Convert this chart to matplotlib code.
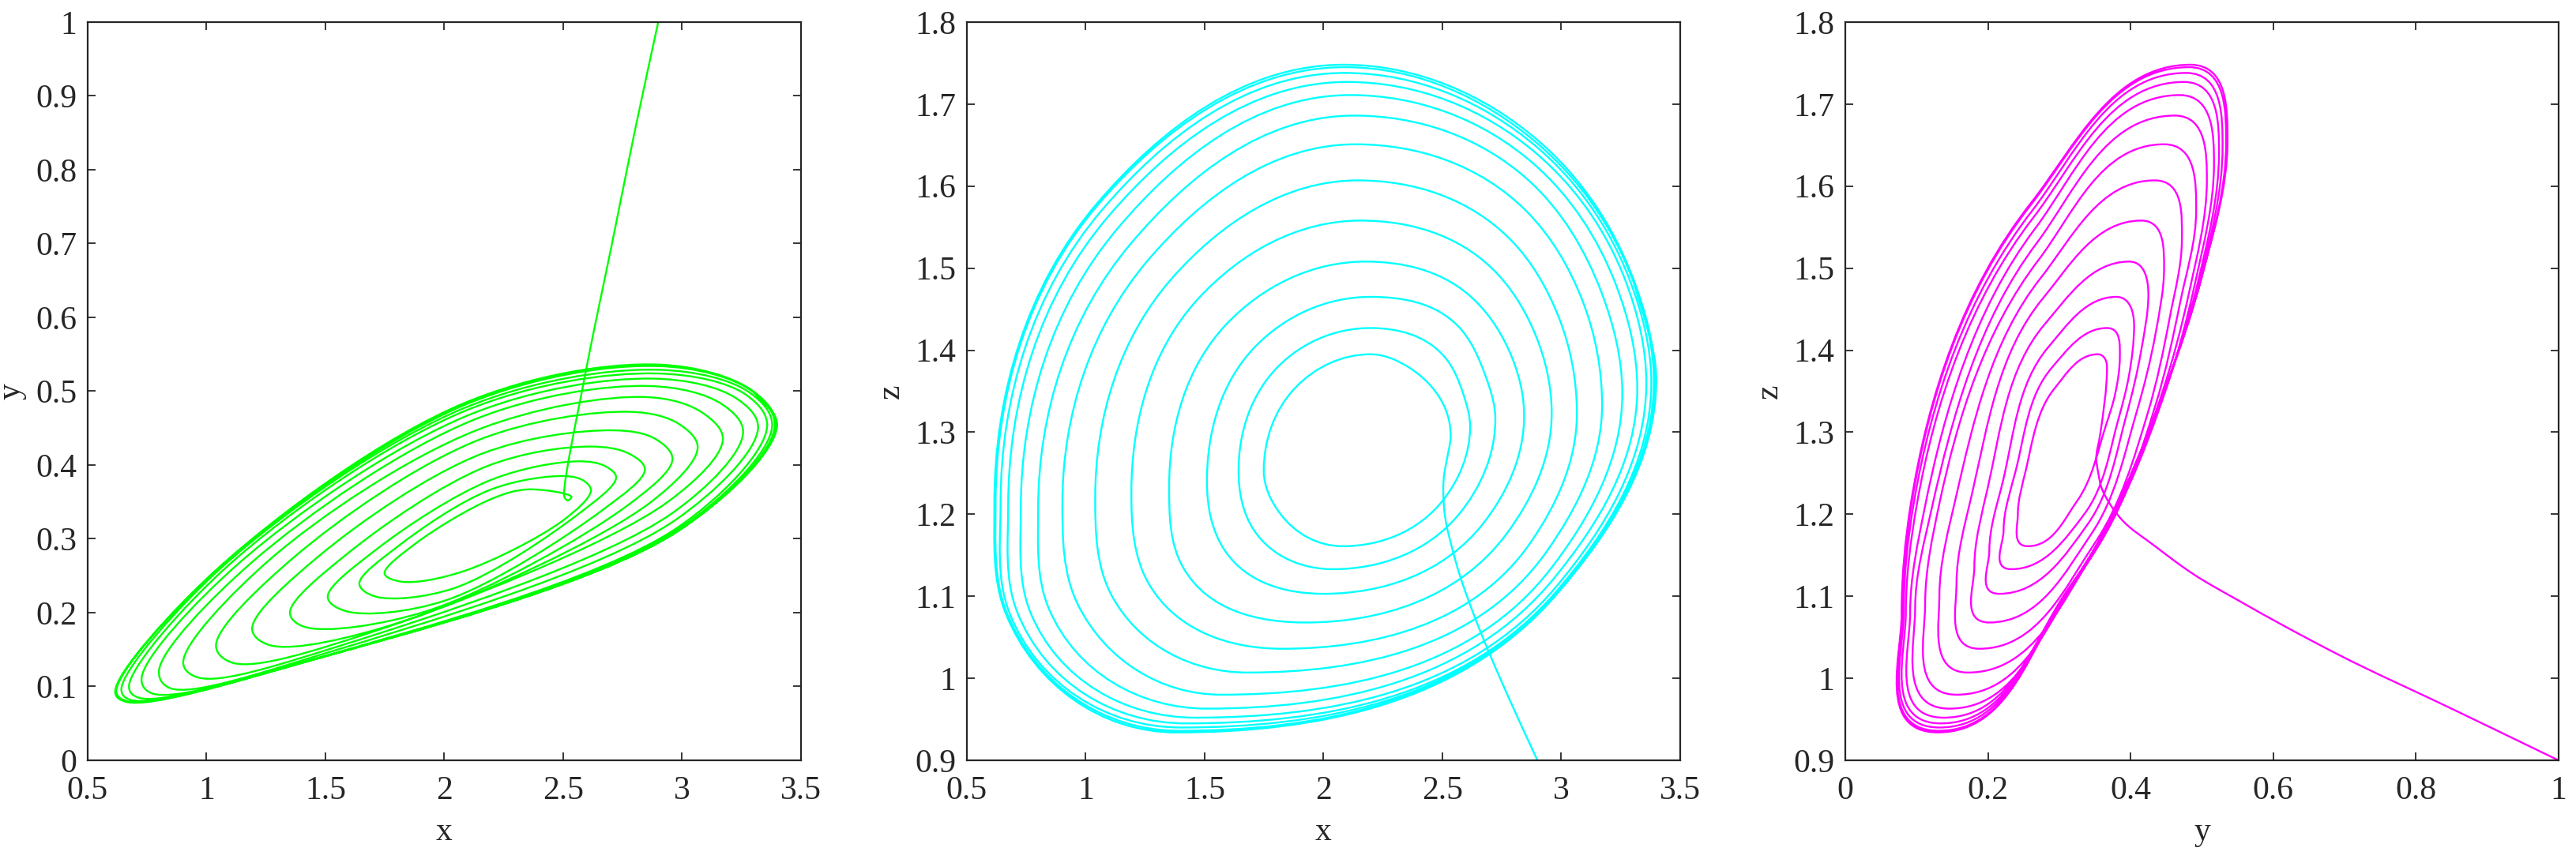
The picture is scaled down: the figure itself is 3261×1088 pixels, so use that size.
import numpy as np
import matplotlib
matplotlib.use("Agg")
import matplotlib.pyplot as plt
from matplotlib.path import Path
from matplotlib.patches import PathPatch
from matplotlib.ticker import FuncFormatter

plt.rcParams['font.family'] = ['Liberation Serif', 'DejaVu Serif']

# transient from the start point down to the focus (x, y, z)
start_x = [2.900, 2.800, 2.700, 2.652, 2.610, 2.572, 2.540, 2.512, 2.506, 2.504, 2.508, 2.520, 2.535]
start_y = [1.000, 0.850, 0.691, 0.617, 0.551, 0.488, 0.436, 0.385, 0.370, 0.359, 0.355, 0.352, 0.357]
start_z = [0.900, 0.963, 1.029, 1.063, 1.095, 1.127, 1.160, 1.196, 1.214, 1.233, 1.249, 1.268, 1.295]

# points passed on every loop of the spiral, read off the three projections
# order along a loop: y max, z max, upper-left (A), x min, y min, z min,
# lower-right (B), x max, upper-right (C)
ymax_x = [2.354, 2.509, 2.564, 2.609, 2.708, 2.786, 2.852, 2.863, 2.885, 2.895, 2.900, 2.900, 2.905]
ymax_y = [0.367, 0.385, 0.405, 0.425, 0.447, 0.472, 0.492, 0.507, 0.517, 0.524, 0.529, 0.534, 0.536]
ymax_z = [1.380, 1.392, 1.430, 1.468, 1.500, 1.535, 1.570, 1.607, 1.627, 1.640, 1.647, 1.652, 1.655]

zmax_x = [2.198, 2.198, 2.198, 2.177, 2.156, 2.145, 2.135, 2.130, 2.113, 2.100, 2.090, 2.090, 2.085]
zmax_y = [0.354, 0.367, 0.380, 0.398, 0.415, 0.434, 0.447, 0.462, 0.469, 0.475, 0.478, 0.482, 0.484]
zmax_z = [1.395, 1.427, 1.465, 1.508, 1.558, 1.607, 1.651, 1.686, 1.711, 1.727, 1.738, 1.745, 1.748]

a_x = [1.881, 1.806, 1.712, 1.593, 1.474, 1.364, 1.263, 1.190, 1.133, 1.092, 1.066, 1.051, 1.048]
a_y = [0.294, 0.290, 0.285, 0.280, 0.277, 0.274, 0.271, 0.268, 0.266, 0.264, 0.262, 0.260, 0.260]
a_z = [1.354, 1.379, 1.404, 1.432, 1.463, 1.488, 1.510, 1.530, 1.548, 1.562, 1.570, 1.577, 1.579]

xmin_x = [1.749, 1.643, 1.510, 1.351, 1.192, 1.040, 0.902, 0.800, 0.727, 0.674, 0.642, 0.621, 0.616]
xmin_y = [0.253, 0.239, 0.221, 0.200, 0.178, 0.155, 0.132, 0.121, 0.111, 0.100, 0.096, 0.093, 0.092]
xmin_z = [1.253, 1.253, 1.240, 1.233, 1.226, 1.220, 1.213, 1.206, 1.206, 1.210, 1.213, 1.213, 1.213]

ymin_x = [1.820, 1.709, 1.587, 1.410, 1.266, 1.111, 0.967, 0.845, 0.768, 0.713, 0.679, 0.668, 0.665]
ymin_y = [0.242, 0.222, 0.202, 0.181, 0.156, 0.132, 0.112, 0.098, 0.091, 0.085, 0.082, 0.080, 0.079]
ymin_z = [1.200, 1.180, 1.155, 1.135, 1.115, 1.100, 1.090, 1.085, 1.080, 1.080, 1.080, 1.080, 1.078]

zmin_x = [2.080, 2.040, 2.000, 1.925, 1.825, 1.680, 1.570, 1.510, 1.460, 1.420, 1.400, 1.390, 1.380]
zmin_y = [0.256, 0.233, 0.216, 0.202, 0.188, 0.172, 0.156, 0.146, 0.138, 0.134, 0.132, 0.131, 0.130]
zmin_z = [1.161, 1.133, 1.103, 1.068, 1.036, 1.007, 0.980, 0.963, 0.952, 0.945, 0.940, 0.936, 0.934]

b_x = [2.500, 2.570, 2.670, 2.770, 2.870, 2.940, 2.960, 2.970, 2.980, 2.980, 2.980, 2.980, 2.980]
b_y = [0.325, 0.335, 0.340, 0.345, 0.350, 0.350, 0.335, 0.325, 0.315, 0.312, 0.310, 0.310, 0.310]
b_z = [1.216, 1.200, 1.188, 1.176, 1.165, 1.155, 1.135, 1.122, 1.112, 1.106, 1.104, 1.103, 1.102]

xmax_x = [2.617, 2.723, 2.844, 2.960, 3.066, 3.172, 3.257, 3.320, 3.358, 3.379, 3.390, 3.395, 3.400]
xmax_y = [0.365, 0.383, 0.394, 0.408, 0.424, 0.435, 0.444, 0.450, 0.452, 0.452, 0.452, 0.452, 0.453]
xmax_z = [1.307, 1.316, 1.320, 1.323, 1.323, 1.333, 1.347, 1.353, 1.360, 1.360, 1.362, 1.362, 1.364]

c_x = [2.590, 2.680, 2.780, 2.890, 2.990, 3.090, 3.170, 3.230, 3.270, 3.285, 3.295, 3.299, 3.300]
c_y = [0.378, 0.398, 0.415, 0.435, 0.455, 0.470, 0.482, 0.490, 0.495, 0.498, 0.500, 0.500, 0.500]
c_z = [1.345, 1.370, 1.400, 1.420, 1.440, 1.460, 1.470, 1.480, 1.485, 1.488, 1.490, 1.490, 1.490]

xlim = (0.5, 3.5)
ylim = (0, 1)
zlim = (0.9, 1.8)
x_ticks = [0.5, 1, 1.5, 2, 2.5, 3, 3.5]
y_ticks = [0, 0.1, 0.2, 0.3, 0.4, 0.5, 0.6, 0.7, 0.8, 0.9, 1]
y_ticks2 = [0, 0.2, 0.4, 0.6, 0.8, 1]
z_ticks = [0.9, 1, 1.1, 1.2, 1.3, 1.4, 1.5, 1.6, 1.7, 1.8]

# put the trajectory together in time order, remembering which point is an extreme
phases = [('ymax', ymax_x, ymax_y, ymax_z), ('zmax', zmax_x, zmax_y, zmax_z), ('', a_x, a_y, a_z),
          ('xmin', xmin_x, xmin_y, xmin_z), ('ymin', ymin_x, ymin_y, ymin_z),
          ('zmin', zmin_x, zmin_y, zmin_z), ('', b_x, b_y, b_z),
          ('xmax', xmax_x, xmax_y, xmax_z), ('', c_x, c_y, c_z)]
tx, ty, tz = list(start_x), list(start_y), list(start_z)
tags = [''] * len(start_x)
for k in range(len(ymax_x)):
    for tag, px, py, pz in phases:
        tx.append(px[k]); ty.append(py[k]); tz.append(pz[k]); tags.append(tag)
tx, ty, tz = np.array(tx), np.array(ty), np.array(tz)


def catmull_rom(N, alpha=0.5):
    # centripetal Catmull-Rom control points (good for the thin, pointed x-y loops)
    P = np.vstack([2 * N[0] - N[1], N, 2 * N[-1] - N[-2]])
    verts = [P[1]]
    for i in range(1, len(P) - 2):
        p0, p1, p2, p3 = P[i - 1], P[i], P[i + 1], P[i + 2]
        d1 = max(np.linalg.norm(p1 - p0), 1e-9) ** alpha
        d2 = max(np.linalg.norm(p2 - p1), 1e-9) ** alpha
        d3 = max(np.linalg.norm(p3 - p2), 1e-9) ** alpha
        b1 = (d1**2 * p2 - d2**2 * p0 + (2 * d1**2 + 3 * d1 * d2 + d2**2) * p1) / (3 * d1 * (d1 + d2))
        b2 = (d3**2 * p1 - d2**2 * p3 + (2 * d3**2 + 3 * d3 * d2 + d2**2) * p2) / (3 * d3 * (d3 + d2))
        verts += [b1, b2, p2]
    return verts


def arc_fit(N, uname, vname):
    # tangent vertical / horizontal at an extreme of u / v, otherwise the tangent
    # of the circle through the neighbours; handles sized like circular arcs
    n = len(N)
    T = np.zeros_like(N)
    for i in range(n):
        if i == 0:
            t = N[1] - N[0]
        elif i == n - 1:
            t = N[-1] - N[-2]
        else:
            a = N[i] - N[i - 1]
            b = N[i + 1] - N[i]
            t = np.dot(b, b) * a + np.dot(a, a) * b
            if tags[i] in (uname + 'min', uname + 'max'):
                t = np.array([0.0, np.sign(N[i + 1][1] - N[i - 1][1]) or 1.0])
            elif tags[i] in (vname + 'min', vname + 'max'):
                t = np.array([np.sign(N[i + 1][0] - N[i - 1][0]) or 1.0, 0.0])
        T[i] = t / np.linalg.norm(t)

    def hk(t, c):
        L = np.linalg.norm(c)
        ang = min(np.arccos(np.clip(np.dot(t, c) / L, -1, 1)), np.radians(95))
        if ang < 1e-3:
            return L / 3
        return L * (2.0 / 3.0) * np.tan(ang / 2) / np.sin(ang)

    verts = [N[0]]
    for i in range(n - 1):
        c = N[i + 1] - N[i]
        verts += [N[i] + T[i] * hk(T[i], c), N[i + 1] - T[i + 1] * hk(T[i + 1], c), N[i + 1]]
    return verts


def smooth_path(u, v, ulim, vlim, uname, vname, method):
    lo = np.array([ulim[0], vlim[0]])
    rng = np.array([ulim[1] - ulim[0], vlim[1] - vlim[0]])
    N = (np.column_stack([u, v]) - lo) / rng
    if method == 'cr':
        verts = catmull_rom(N)
    else:
        verts = arc_fit(N, uname, vname)
    codes = [Path.MOVETO] + [Path.CURVE4] * (len(verts) - 1)
    return Path(np.array(verts) * rng + lo, codes)


fmt = FuncFormatter(lambda v, p: '%g' % round(v, 3))

fig = plt.figure(figsize=(32.62, 10.88), dpi=100)
lefts = [0.0340, 0.3752, 0.7161]
panels = [
    (tx, ty, xlim, ylim, x_ticks, y_ticks, 'x', 'y', (0, 1, 0), 'cr'),
    (tx, tz, xlim, zlim, x_ticks, z_ticks, 'x', 'z', (0, 1, 1), 'arc'),
    (ty, tz, ylim, zlim, y_ticks2, z_ticks, 'y', 'z', (1, 0, 1), 'arc'),
]
for left, (u, v, ul, vl, ut, vt, xl, yl, col, method) in zip(lefts, panels):
    ax = fig.add_axes([left, 0.1149, 0.2768, 0.8594])
    ax.add_patch(PathPatch(smooth_path(u, v, ul, vl, xl, yl, method),
                           fill=False, edgecolor=col, lw=1.7))
    ax.set_xlim(ul)
    ax.set_ylim(vl)
    ax.set_xticks(ut)
    ax.set_yticks(vt)
    ax.xaxis.set_major_formatter(fmt)
    ax.yaxis.set_major_formatter(fmt)
    ax.tick_params(direction='in', top=True, right=True, length=7, width=1.3,
                   labelsize=30, color='#262626', labelcolor='#262626')
    ax.tick_params(axis='x', pad=14)
    ax.tick_params(axis='y', pad=10)
    for s in ax.spines.values():
        s.set_linewidth(1.6)
        s.set_color('#262626')
    ax.set_xlabel(xl, fontsize=30, color='#262626', labelpad=10)
    ax.set_ylabel(yl, fontsize=30, color='#262626', labelpad=8)

fig.savefig('out.png', dpi=100)
